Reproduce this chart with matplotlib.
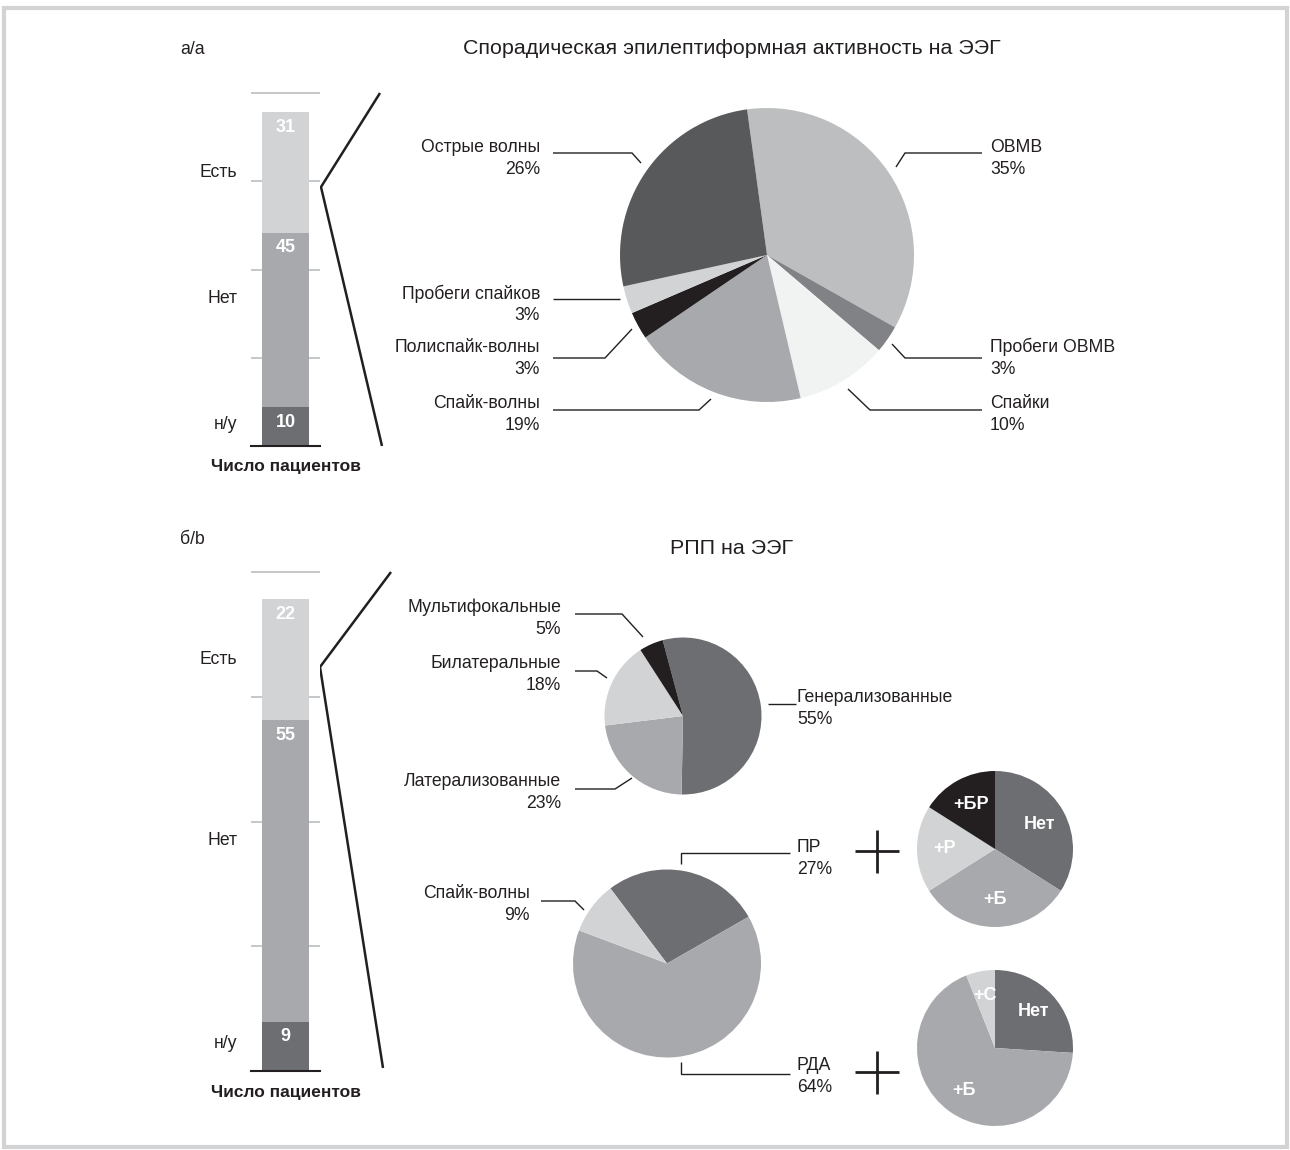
import numpy as np
import matplotlib.pyplot as plt
from matplotlib.patches import Rectangle

plt.rcParams['font.family'] = ['Liberation Sans', 'DejaVu Sans']

W, H = 1290, 1150

# patient counts, bottom to top
bar_cats = ['н/у', 'Нет', 'Есть']
bar_a = [10, 45, 31]
bar_b = [9, 55, 22]
bar_colors = ['#6d6e71', '#a7a9ac', '#d1d3d4']

# sporadic epileptiform activity, % (clockwise from top)
spor_labels = ['ОВМВ', 'Пробеги ОВМВ', 'Спайки', 'Спайк-волны',
               'Полиспайк-волны', 'Пробеги спайков', 'Острые волны']
spor_pct = [35, 3, 10, 19, 3, 3, 26]
spor_colors = ['#bcbec0', '#808285', '#f1f2f2', '#a7a9ac',
               '#231f20', '#d1d3d4', '#58595b']

# RPP localisation, %
loc_labels = ['Генерализованные', 'Латерализованные', 'Билатеральные', 'Мультифокальные']
loc_pct = [55, 23, 18, 5]
loc_colors = ['#6d6e71', '#a7a9ac', '#d1d3d4', '#231f20']

# RPP type, %
type_labels = ['ПР', 'РДА', 'Спайк-волны']
type_pct = [27, 64, 9]
type_colors = ['#6d6e71', '#a7a9ac', '#d1d3d4']

# PR / RDA subgroups
pr_parts = ['Нет', '+Б', '+Р', '+БР']
pr_vals = [34, 32, 18, 16]
pr_colors = ['#6d6e71', '#a7a9ac', '#d1d3d4', '#231f20']
rda_parts = ['Нет', '+Б', '+С']
rda_vals = [26, 68, 6]
rda_colors = ['#6d6e71', '#a7a9ac', '#d1d3d4']

INK = '#231f20'
FS = 12.7

fig = plt.figure(figsize=(W / 100, H / 100), dpi=100)

ov = fig.add_axes([0, 0, 1, 1])
ov.set_xlim(0, W)
ov.set_ylim(H, 0)
ov.axis('off')


def box(x0, y0, x1, y1):
    return fig.add_axes([x0 / W, 1 - y1 / H, (x1 - x0) / W, (y1 - y0) / H])


def pie_at(cx, cy, r, vals, colors, start):
    ax = box(cx - r, cy - r, cx + r, cy + r)
    wedges, _ = ax.pie(vals, colors=colors, startangle=start, counterclock=False,
                       radius=1, wedgeprops=dict(linewidth=0))
    ax.set_xlim(-1, 1)
    ax.set_ylim(-1, 1)
    ax.axis('off')
    return ax, wedges


def inner_labels(ax, wedges, names, dist=0.65):
    for w, name in zip(wedges, names):
        th = np.deg2rad((w.theta1 + w.theta2) / 2)
        ax.text(dist * np.cos(th), dist * np.sin(th), name, ha='center', va='center',
                color='white', fontsize=13, fontweight='bold')


def patients_bar(y_top, y_bot, vals):
    top = 91
    ppu = (y_bot - y_top) / top
    ax = box(251, y_bot - 92 * ppu, 320, y_bot)
    bottoms = np.cumsum([0] + vals[:-1])
    ax.bar(0.5, vals, bottom=bottoms, width=0.667, color=bar_colors, zorder=2)
    ax.set_xlim(0, 1)
    ax.set_ylim(0, 92)
    ax.set_yticks(np.linspace(0, top, 5))
    ax.set_xticks([])
    ax.tick_params(left=False, labelleft=False)
    ax.grid(axis='y', color='#bcbec0', lw=1.2, zorder=0)
    for s in ['top', 'left', 'right']:
        ax.spines[s].set_visible(False)
    ax.spines['bottom'].set_color(INK)
    ax.spines['bottom'].set_linewidth(1.5)
    ax.spines['bottom'].set_zorder(3)
    shifts = [0.5, 5.6, 0.0]
    for b, v, cat, sh in zip(bottoms, vals, bar_cats, shifts):
        ax.annotate(str(v), (0.5, b + v), xytext=(0, -11), textcoords='offset points',
                    ha='center', va='center', color='white', fontsize=13, fontweight='bold',
                    zorder=4)
        ax.text(-0.2, b + v / 2 + sh, cat, ha='right', va='center', fontsize=FS,
                color=INK, transform=ax.get_yaxis_transform())
    ax.text(0.5, -21 / (y_bot - y_top + ppu), 'Число пациентов', transform=ax.transAxes,
            ha='center', va='center', fontsize=12.5, fontweight='bold', color=INK)
    return ax


def leader(pts, lw=1.0):
    xs, ys = zip(*pts)
    ov.plot(xs, ys, color=INK, lw=lw, solid_capstyle='butt', solid_joinstyle='miter')


def label(x, y1, name, pct, ha):
    ov.text(x, y1 + 2, name, ha=ha, va='center', fontsize=FS, color=INK)
    ov.text(x, y1 + 24, f'{pct}%', ha=ha, va='center', fontsize=FS, color=INK)


# frame
ov.add_patch(Rectangle((4, 8), 1283, 1139, fill=False, ec='#d1d3d4', lw=3))

# headings
ov.text(180, 49, 'а/a', ha='left', va='center', fontsize=FS, color=INK)
ov.text(180, 539, 'б/b', ha='left', va='center', fontsize=FS, color=INK)
ov.text(732, 49, 'Спорадическая эпилептиформная активность на ЭЭГ', ha='center',
        va='center', fontsize=15.4, color=INK)
ov.text(732, 549, 'РПП на ЭЭГ', ha='center', va='center', fontsize=15.4, color=INK)

# panel a
patients_bar(93, 446, bar_a)
leader([(380, 93), (321, 187), (382, 446)], lw=1.8)
pie_at(767, 255, 147, spor_pct, spor_colors, 97.8)

label(540, 146, spor_labels[6], spor_pct[6], 'right')
label(540, 292, spor_labels[5], spor_pct[5], 'right')
label(540, 345, spor_labels[4], spor_pct[4], 'right')
label(540, 401, spor_labels[3], spor_pct[3], 'right')
label(990, 146, spor_labels[0], spor_pct[0], 'left')
label(990, 345, spor_labels[1], spor_pct[1], 'left')
label(990, 401, spor_labels[2], spor_pct[2], 'left')
leader([(553, 153), (632, 153), (641, 163)])
leader([(553, 299), (620, 299)])
leader([(553, 358), (605, 358), (632, 329)])
leader([(553, 410), (699, 410), (711, 399)])
leader([(982, 153), (905, 153), (896, 167)])
leader([(982, 358), (905, 358), (892, 344)])
leader([(982, 410), (870, 410), (848, 389)])

# panel b
patients_bar(572, 1071, bar_b)
leader([(391, 572), (320, 667), (383, 1068)], lw=1.8)

pie_at(683, 716, 78.5, loc_pct, loc_colors, 105)
label(561, 605, loc_labels[3], loc_pct[3], 'right')
label(561, 662, loc_labels[2], loc_pct[2], 'right')
label(561, 779, loc_labels[1], loc_pct[1], 'right')
label(797, 695, loc_labels[0], loc_pct[0], 'left')
leader([(575, 614), (622, 614), (643, 637)])
leader([(575, 671), (597, 671), (607, 678)])
leader([(575, 789), (615, 789), (632, 778)])
leader([(768, 704), (796, 704)])

pie_at(667, 963.5, 94, type_pct, type_colors, 127)
label(530, 892, type_labels[2], type_pct[2], 'right')
label(797, 846, type_labels[0], type_pct[0], 'left')
label(797, 1063, type_labels[1], type_pct[1], 'left')
leader([(541, 901), (575, 901), (584, 910)])
leader([(681, 864), (681, 853), (790, 853)])
leader([(681, 1062), (681, 1074), (790, 1074)])

for cy in (851, 1072):
    leader([(855, cy), (899, cy)], lw=2)
    leader([(877, cy - 21.5), (877, cy + 21.5)], lw=2)

ax_pr, w_pr = pie_at(995, 849, 78, pr_vals, pr_colors, 90)
inner_labels(ax_pr, w_pr, pr_parts)
ax_rda, w_rda = pie_at(995, 1048, 78, rda_vals, rda_colors, 90)
inner_labels(ax_rda, w_rda, rda_parts, dist=0.68)

fig.savefig('out.png', dpi=100)
